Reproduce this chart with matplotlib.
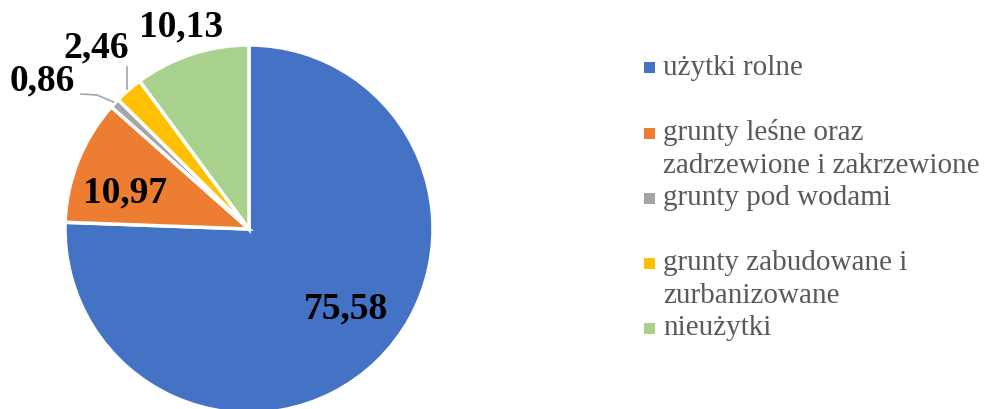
import numpy as np
import matplotlib
matplotlib.use("Agg")
import matplotlib.pyplot as plt
from matplotlib.patches import Rectangle

categories = ["użytki rolne",
              "grunty leśne oraz\nzadrzewione i zakrzewione",
              "grunty pod wodami",
              "grunty zabudowane i\nzurbanizowane",
              "nieużytki"]
values = [75.58, 10.97, 0.86, 2.46, 10.13]
value_labels = ["75,58", "10,97", "0,86", "2,46", "10,13"]
colors = ["#4472C4", "#ED7D31", "#A5A5A5", "#FFC000", "#A9D18E"]

W, H = 985, 409
fig = plt.figure(figsize=(W / 100, H / 100), dpi=100)

cx, cy, r = 249, 229, 184
ax = fig.add_axes([(cx - r) / W, (H - cy - r) / H, 2 * r / W, 2 * r / H])

wedges, _ = ax.pie(values, colors=colors, startangle=90, counterclock=False,
                   radius=1.0, center=(0, 0), frame=False,
                   wedgeprops=dict(edgecolor="white", linewidth=2.5))
ax.set_xlim(-1, 1)
ax.set_ylim(-1, 1)
ax.set_aspect("auto")
ax.axis("off")

# label positions (pixels) -> data coords
label_px = [(346, 309), (125, 193), (42, 81), (96, 48), (181, 27)]
for (px, py), txt in zip(label_px, value_labels):
    x = (px - cx) / r
    y = (cy - py) / r
    ax.text(x, y, txt, ha="center", va="center", fontsize=27,
            fontweight="bold", family="Liberation Serif", color="black",
            clip_on=False)

# leader lines
def wedge_point(i):
    w = wedges[i]
    ang = np.deg2rad((w.theta1 + w.theta2) / 2)
    return np.cos(ang), np.sin(ang)

def p2d(px, py):
    return (px - cx) / r, (cy - py) / r

x0, y0 = wedge_point(2)
pts = [(x0 * 1.01, y0 * 1.01), p2d(97, 95), p2d(81, 94)]
ax.plot([p[0] for p in pts], [p[1] for p in pts], color="#A5A5A5", lw=1.2,
        clip_on=False)
x1, y1 = wedge_point(3)
pts = [(x1 * 1.01, y1 * 1.01), (x1 * 1.01, p2d(0, 67)[1])]
ax.plot([p[0] for p in pts], [p[1] for p in pts], color="#A5A5A5", lw=1.2,
        clip_on=False)

# legend (pixel layout)
square_cy = [67.5, 133, 198, 263, 328]
line_baselines = [[75], [140, 173], [205], [270, 303], [335]]
for lbl, col, sy, bls in zip(categories, colors, square_cy, line_baselines):
    fig.patches.append(Rectangle((644 / W, (H - sy - 5.5) / H), 11 / W, 11 / H,
                                 transform=fig.transFigure, facecolor=col,
                                 edgecolor="none"))
    for line, bl in zip(lbl.split("\n"), bls):
        fig.text(663 / W, (H - bl) / H, line, ha="left", va="baseline",
                 fontsize=21, family="Liberation Serif", color="#595959")

fig.savefig("out.png", dpi=100)
